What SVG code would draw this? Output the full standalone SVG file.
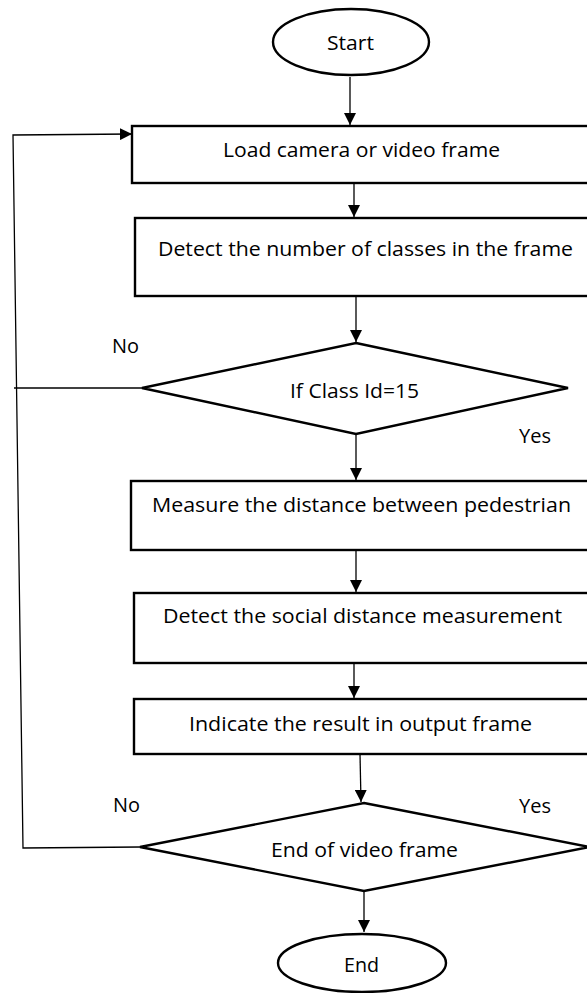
<svg xmlns="http://www.w3.org/2000/svg" width="587" height="993" viewBox="0 0 587 993">
<style>
.shape{fill:#fff;stroke:#000;stroke-width:2.4}
.conn{fill:none;stroke:#000;stroke-width:1.3}
.t{font-family:"Open Sans","Noto Sans","Liberation Sans",sans-serif;font-size:20.5px;fill:#000}
</style>
<defs>
<marker id="ah" markerUnits="userSpaceOnUse" markerWidth="12" markerHeight="12" refX="12" refY="6" orient="auto" viewBox="0 0 12 12">
<path d="M0,0 L12,6 L0,12 z" fill="#000"/>
</marker>
</defs>
<rect width="587" height="993" fill="#fff"/>
<g id="connectors">
<line class="conn" x1="350" y1="77" x2="350" y2="125" marker-end="url(#ah)"/>
<line class="conn" x1="354" y1="183" x2="354" y2="217" marker-end="url(#ah)"/>
<line class="conn" x1="356" y1="296" x2="356" y2="342" marker-end="url(#ah)"/>
<line class="conn" x1="356" y1="434" x2="356" y2="480" marker-end="url(#ah)"/>
<line class="conn" x1="356" y1="550" x2="356" y2="592" marker-end="url(#ah)"/>
<line class="conn" x1="354" y1="663" x2="354" y2="698" marker-end="url(#ah)"/>
<line class="conn" x1="360" y1="754" x2="361" y2="802" marker-end="url(#ah)"/>
<line class="conn" x1="364" y1="891" x2="364" y2="932" marker-end="url(#ah)"/>
<line class="conn" x1="142" y1="388" x2="14" y2="388"/>
<polyline class="conn" points="140,847 23,848 13,135 132,134" marker-end="url(#ah)"/>
</g>
<g id="start">
<ellipse class="shape" cx="351" cy="42" rx="78" ry="33"/>
<text class="t" x="327" y="50" textLength="47" lengthAdjust="spacingAndGlyphs">Start</text>
</g>
<g id="load">
<rect class="shape" x="132" y="126" width="470" height="57"/>
<text class="t" x="223" y="157" textLength="277" lengthAdjust="spacingAndGlyphs">Load camera or video frame</text>
</g>
<g id="detect-classes">
<rect class="shape" x="135" y="218" width="470" height="78"/>
<text class="t" x="158" y="256" textLength="415" lengthAdjust="spacingAndGlyphs">Detect the number of classes in the frame</text>
</g>
<g id="if-class">
<polygon class="shape" points="356,343 568,388 356,434 142,388"/>
<text class="t" x="290" y="398" textLength="129" lengthAdjust="spacingAndGlyphs">If Class Id=15</text>
</g>
<g id="measure">
<rect class="shape" x="131" y="481" width="470" height="69"/>
<text class="t" x="152" y="512" textLength="419" lengthAdjust="spacingAndGlyphs">Measure the distance between pedestrian</text>
</g>
<g id="social">
<rect class="shape" x="134" y="593" width="470" height="70"/>
<text class="t" x="163" y="623" textLength="399" lengthAdjust="spacingAndGlyphs">Detect the social distance measurement</text>
</g>
<g id="indicate">
<rect class="shape" x="134" y="699" width="470" height="55"/>
<text class="t" x="189" y="731" textLength="343" lengthAdjust="spacingAndGlyphs">Indicate the result in output frame</text>
</g>
<g id="end-video">
<polygon class="shape" points="364,803 590,847 364,891 140,847"/>
<text class="t" x="271" y="857" textLength="187" lengthAdjust="spacingAndGlyphs">End of video frame</text>
</g>
<g id="end">
<ellipse class="shape" cx="362" cy="963" rx="84" ry="29"/>
<text class="t" x="344" y="972" textLength="35" lengthAdjust="spacingAndGlyphs">End</text>
</g>
<g id="labels">
<text class="t" x="112" y="353" textLength="27" lengthAdjust="spacingAndGlyphs">No</text>
<text class="t" x="519" y="443" textLength="32" lengthAdjust="spacingAndGlyphs">Yes</text>
<text class="t" x="113" y="812" textLength="27" lengthAdjust="spacingAndGlyphs">No</text>
<text class="t" x="519" y="813" textLength="32" lengthAdjust="spacingAndGlyphs">Yes</text>
</g>
</svg>
